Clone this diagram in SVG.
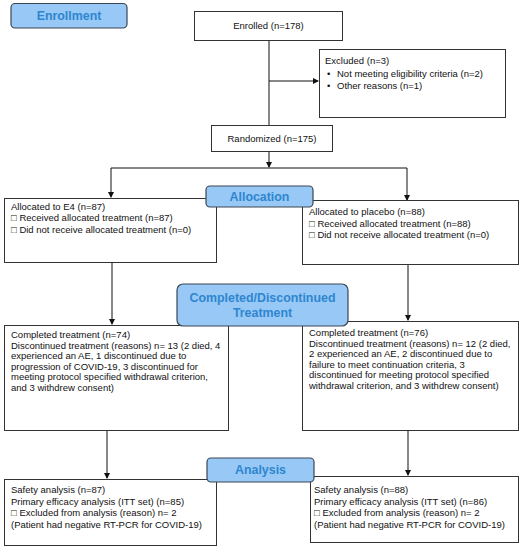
<svg xmlns="http://www.w3.org/2000/svg" width="522" height="550" viewBox="0 0 522 550">
<defs>
<marker id="ah" markerWidth="6" markerHeight="6" refX="5" refY="3" orient="auto" markerUnits="userSpaceOnUse">
<path d="M0,0 L6,3 L0,6 Z" fill="#111"/>
</marker>
<style>
.box{fill:#fff;stroke:#333;stroke-width:1}
.hdr{fill:#97C8F6;stroke:#3c4652;stroke-width:1.2}
.ht{font-family:"Liberation Sans",Arial,sans-serif;font-weight:bold;font-size:12.4px;fill:#2E86CF;text-anchor:middle}
.t{font-family:"Liberation Sans",Arial,sans-serif;font-size:9.5px;fill:#111}
.c{text-anchor:middle}
.ln{fill:none;stroke:#111;stroke-width:1}
</style>
</defs>
<rect width="522" height="550" fill="#fff"/>
<g id="connectors">
<path class="ln" d="M269,40 V125"/>
<path class="ln" d="M269,81 H318" marker-end="url(#ah)"/>
<path class="ln" d="M269,151 V167" marker-end="url(#ah)"/>
<path class="ln" d="M111,168 H407"/>
<path class="ln" d="M111,168 V197" marker-end="url(#ah)"/>
<path class="ln" d="M407,168 V200" marker-end="url(#ah)"/>
<path class="ln" d="M112,262 V324" marker-end="url(#ah)"/>
<path class="ln" d="M408,264 V320" marker-end="url(#ah)"/>
<path class="ln" d="M107,430 V478" marker-end="url(#ah)"/>
<path class="ln" d="M408,430 V475" marker-end="url(#ah)"/>
</g>
<g id="enrolled">
<rect class="box" x="194.5" y="11.5" width="148" height="29"/>
<text class="t c" x="268.5" y="29">Enrolled (n=178)</text>
</g>
<g id="excluded">
<rect class="box" x="319.5" y="49.5" width="186" height="68"/>
<text class="t" x="325" y="64">Excluded (n=3)</text>
<text class="t" x="327" y="76.5">•</text>
<text class="t" x="337" y="76.5">Not meeting eligibility criteria (n=2)</text>
<text class="t" x="327" y="89">•</text>
<text class="t" x="337" y="89">Other reasons (n=1)</text>
</g>
<g id="randomized">
<rect class="box" x="211.5" y="125.5" width="121" height="26"/>
<text class="t c" x="272" y="142">Randomized (n=175)</text>
</g>
<g id="alloc-e4">
<rect class="box" x="4.5" y="198.5" width="212" height="64"/>
<text class="t" x="11" y="209.5">Allocated to E4 (n=87)</text>
<text class="t" x="11" y="221">□ Received allocated treatment (n=87)</text>
<text class="t" x="11" y="232.5">□ Did not receive allocated treatment (n=0)</text>
</g>
<g id="alloc-placebo">
<rect class="box" x="302.5" y="200.5" width="216" height="64"/>
<text class="t" x="309" y="215">Allocated to placebo (n=88)</text>
<text class="t" x="309" y="226.5">□ Received allocated treatment (n=88)</text>
<text class="t" x="309" y="238">□ Did not receive allocated treatment (n=0)</text>
</g>
<g id="completed-e4">
<rect class="box" x="4.5" y="325.5" width="224" height="105"/>
<text class="t" x="11" y="338">Completed treatment (n=74)</text>
<text class="t" x="11" y="348.5">Discontinued treatment (reasons) n= 13 (2 died, 4</text>
<text class="t" x="11" y="359">experienced an AE, 1 discontinued due to</text>
<text class="t" x="11" y="369.5">progression of COVID-19, 3 discontinued for</text>
<text class="t" x="11" y="380">meeting protocol specified withdrawal criterion,</text>
<text class="t" x="11" y="390.5">and 3 withdrew consent)</text>
</g>
<g id="completed-placebo">
<rect class="box" x="302.5" y="321.5" width="216" height="109"/>
<text class="t" x="309" y="336">Completed treatment (n=76)</text>
<text class="t" x="309" y="346.5">Discontinued treatment (reasons) n= 12 (2 died,</text>
<text class="t" x="309" y="357">2 experienced an AE, 2 discontinued due to</text>
<text class="t" x="309" y="367.5">failure to meet continuation criteria, 3</text>
<text class="t" x="309" y="378">discontinued for meeting protocol specified</text>
<text class="t" x="309" y="388.5">withdrawal criterion, and 3 withdrew consent)</text>
</g>
<g id="analysis-e4">
<rect class="box" x="4.5" y="479.5" width="212" height="66"/>
<text class="t" x="11" y="493">Safety analysis (n=87)</text>
<text class="t" x="11" y="504.5">Primary efficacy analysis (ITT set) (n=85)</text>
<text class="t" x="11" y="516">□ Excluded from analysis (reason) n= 2</text>
<text class="t" x="11" y="527.5">(Patient had negative RT-PCR for COVID-19)</text>
</g>
<g id="analysis-placebo">
<rect class="box" x="310.5" y="476.5" width="208" height="66"/>
<text class="t" x="314" y="493">Safety analysis (n=88)</text>
<text class="t" x="314" y="504.5">Primary efficacy analysis (ITT set) (n=86)</text>
<text class="t" x="314" y="516">□ Excluded from analysis (reason) n= 2</text>
<text class="t" x="314" y="527.5">(Patient had negative RT-PCR for COVID-19)</text>
</g>
<g id="hdr-enrollment">
<rect class="hdr" x="11" y="3.5" width="116" height="24.5" rx="4"/>
<text class="ht" x="69" y="20">Enrollment</text>
</g>
<g id="hdr-allocation">
<rect class="hdr" x="206" y="186" width="107" height="21" rx="4"/>
<text class="ht" x="259.5" y="201">Allocation</text>
</g>
<g id="hdr-completed">
<rect class="hdr" x="177" y="284" width="171" height="42" rx="6"/>
<text class="ht" x="262.5" y="302">Completed/Discontinued</text>
<text class="ht" x="262.5" y="317">Treatment</text>
</g>
<g id="hdr-analysis">
<rect class="hdr" x="207" y="458" width="107" height="24" rx="4"/>
<text class="ht" x="260.5" y="474">Analysis</text>
</g>
</svg>
